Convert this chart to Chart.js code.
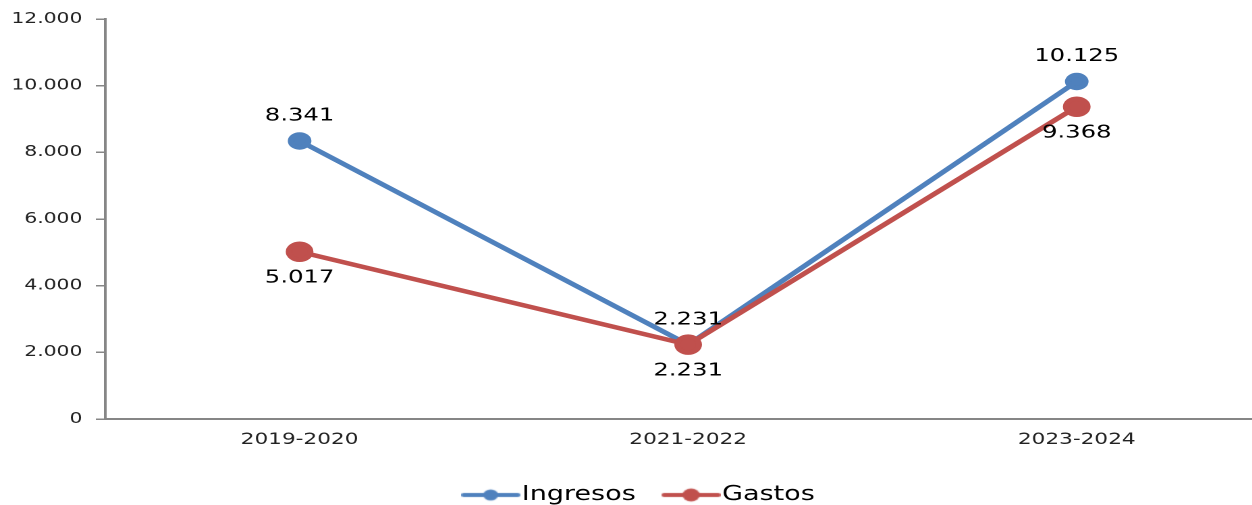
<!DOCTYPE html>
<html>
<head>
<meta charset="utf-8">
<script src="https://cdn.jsdelivr.net/npm/chart.js@4.4.0/dist/chart.umd.min.js"></script>
<style>
  html, body { margin: 0; padding: 0; background: #fff; overflow: hidden; }
  #wrap { width: 1252px; height: 505px; overflow: hidden; position: relative; }
  /* the reference picture is stretched sideways, so the canvas is too */
  #myChart { position: absolute; left: 0; top: 0; transform: scaleX(1.35); transform-origin: 0 0; }
</style>
</head>
<body>
<div id="wrap">
  <canvas id="myChart" width="954" height="515" style="width:954px;height:515px"></canvas>
</div>
<script>
const periods = ["2019-2020", "2021-2022", "2023-2024"];
const ingresos = [8341, 2231, 10125];
const gastos = [5017, 2231, 9368];
const seriesNames = ["Ingresos", "Gastos"];
const yTicks = [0, 2000, 4000, 6000, 8000, 10000, 12000];

const FONT = "'DejaVu Sans', Verdana, sans-serif";
const BLUE = "#4F81BD";
const RED = "#C0504D";
const AXIS = "#868686";

function fmt(v) {
    return String(v).replace(/\B(?=(\d{3})+(?!\d))/g, ".");
}

// legend marker: short line with a dot in the middle
function marker(color, r) {
    const c = document.createElement("canvas");
    c.width = 44;
    c.height = 16;
    const g = c.getContext("2d");
    g.strokeStyle = color;
    g.lineWidth = 4;
    g.lineCap = "round";
    g.beginPath();
    g.moveTo(2, 8);
    g.lineTo(42, 8);
    g.stroke();
    g.fillStyle = color;
    g.beginPath();
    g.arc(22, 8, r, 0, Math.PI * 2);
    g.fill();
    return c;
}

const valueLabels = {
    id: "valueLabels",
    afterDatasetsDraw(chart) {
        const ctx = chart.ctx;
        ctx.save();
        ctx.font = "18px " + FONT;
        ctx.fillStyle = "#000";
        ctx.textAlign = "center";
        ctx.textBaseline = "middle";
        chart.data.datasets.forEach(function (ds, i) {
            const meta = chart.getDatasetMeta(i);
            meta.data.forEach(function (pt, j) {
                const dy = i === 0 ? -25 : 26;
                ctx.fillText(fmt(ds.data[j]), pt.x, pt.y + dy);
            });
        });
        ctx.restore();
    }
};

const data = {
    labels: periods,
    datasets: [{
        label: seriesNames[0],
        data: ingresos,
        order: 1,
        borderColor: BLUE,
        backgroundColor: BLUE,
        borderWidth: 4.5,
        pointRadius: 6.5,
        pointHoverRadius: 6.5,
        pointStyle: "circle",
        legendStyle: marker(BLUE, 5.5),
        tension: 0
    }, {
        label: seriesNames[1],
        data: gastos,
        order: 0,
        borderColor: RED,
        backgroundColor: RED,
        borderWidth: 4.5,
        pointRadius: 8,
        pointHoverRadius: 8,
        pointStyle: "circle",
        legendStyle: marker(RED, 6.5),
        tension: 0
    }]
};

const config = {
    type: "line",
    data: data,
    options: {
        responsive: false,
        animation: false,
        devicePixelRatio: 2,
        layout: { padding: { top: 8, left: 0, right: 0, bottom: 0 } },
        plugins: {
            tooltip: { enabled: false },
            legend: {
                position: "bottom",
                labels: {
                    usePointStyle: true,
                    pointStyleWidth: 26,
                    boxHeight: 16,
                    padding: 28,
                    color: "#000",
                    font: { family: FONT, size: 20 },
                    generateLabels(chart) {
                        return chart.data.datasets.map(function (ds, i) {
                            return {
                                text: ds.label,
                                pointStyle: ds.legendStyle,
                                fillStyle: ds.borderColor,
                                strokeStyle: ds.borderColor,
                                lineWidth: 0,
                                datasetIndex: i,
                                hidden: false
                            };
                        });
                    }
                }
            }
        },
        scales: {
            x: {
                offset: true,
                grid: { display: false },
                border: { display: true, color: AXIS, width: 2 },
                ticks: {
                    color: "#222",
                    padding: 3,
                    font: { family: FONT, size: 16 }
                },
                afterFit(scale) { scale.height = 38; }
            },
            y: {
                min: 0,
                max: 12000,
                afterBuildTicks(scale) {
                    scale.ticks = yTicks.map(function (v) { return { value: v }; });
                },
                grid: {
                    display: true,
                    drawOnChartArea: false,
                    drawTicks: true,
                    tickLength: 7,
                    color: AXIS,
                    lineWidth: 1.5
                },
                border: { display: true, color: AXIS, width: 2 },
                ticks: {
                    color: "#222",
                    padding: 10,
                    font: { family: FONT, size: 15 },
                    callback: function (v) { return fmt(v); }
                },
                afterFit(scale) { scale.width = 78; }
            }
        }
    },
    plugins: [valueLabels]
};

const myChart = new Chart(document.getElementById("myChart"), config);
</script>
</body>
</html>
